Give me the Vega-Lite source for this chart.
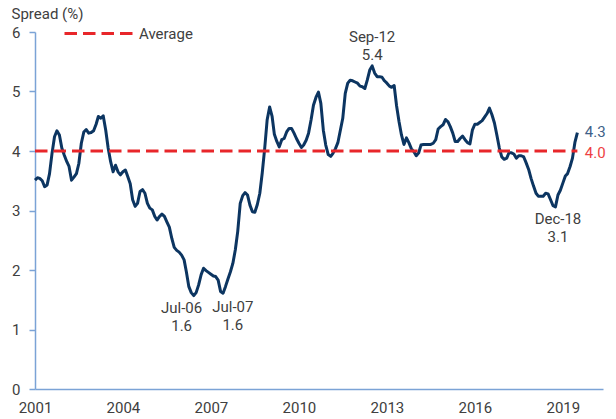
{
  "$schema": "https://vega.github.io/schema/vega-lite/v6.json",
  "width": 568,
  "height": 357,
  "autosize": "none",
  "padding": {"left": 35, "top": 32, "right": 13, "bottom": 30},
  "config": {
    "view": {"stroke": null},
    "font": "Roboto",
    "text": {"font": "Roboto"}
  },
  "datasets": {
    "spread": [
      {"date": "2001-01", "value": 3.51}, {"date": "2001-02", "value": 3.55}, {"date": "2001-03", "value": 3.54}, {"date": "2001-04", "value": 3.50},
      {"date": "2001-05", "value": 3.40}, {"date": "2001-06", "value": 3.43}, {"date": "2001-07", "value": 3.62}, {"date": "2001-08", "value": 3.96},
      {"date": "2001-09", "value": 4.24}, {"date": "2001-10", "value": 4.34}, {"date": "2001-11", "value": 4.27}, {"date": "2001-12", "value": 4.05},
      {"date": "2002-01", "value": 3.93}, {"date": "2002-02", "value": 3.82}, {"date": "2002-03", "value": 3.74}, {"date": "2002-04", "value": 3.51},
      {"date": "2002-05", "value": 3.56}, {"date": "2002-06", "value": 3.62}, {"date": "2002-07", "value": 3.79}, {"date": "2002-08", "value": 4.13},
      {"date": "2002-09", "value": 4.32}, {"date": "2002-10", "value": 4.36}, {"date": "2002-11", "value": 4.30}, {"date": "2002-12", "value": 4.31},
      {"date": "2003-01", "value": 4.34}, {"date": "2003-02", "value": 4.45}, {"date": "2003-03", "value": 4.58}, {"date": "2003-04", "value": 4.55},
      {"date": "2003-05", "value": 4.59}, {"date": "2003-06", "value": 4.35}, {"date": "2003-07", "value": 4.05}, {"date": "2003-08", "value": 3.82},
      {"date": "2003-09", "value": 3.65}, {"date": "2003-10", "value": 3.76}, {"date": "2003-11", "value": 3.65}, {"date": "2003-12", "value": 3.60},
      {"date": "2004-01", "value": 3.65}, {"date": "2004-02", "value": 3.68}, {"date": "2004-03", "value": 3.57}, {"date": "2004-04", "value": 3.45},
      {"date": "2004-05", "value": 3.18}, {"date": "2004-06", "value": 3.07}, {"date": "2004-07", "value": 3.12}, {"date": "2004-08", "value": 3.32},
      {"date": "2004-09", "value": 3.35}, {"date": "2004-10", "value": 3.29}, {"date": "2004-11", "value": 3.12}, {"date": "2004-12", "value": 3.04},
      {"date": "2005-01", "value": 3.01}, {"date": "2005-02", "value": 2.90}, {"date": "2005-03", "value": 2.84}, {"date": "2005-04", "value": 2.90},
      {"date": "2005-05", "value": 2.94}, {"date": "2005-06", "value": 2.90}, {"date": "2005-07", "value": 2.81}, {"date": "2005-08", "value": 2.72},
      {"date": "2005-09", "value": 2.53}, {"date": "2005-10", "value": 2.38}, {"date": "2005-11", "value": 2.33}, {"date": "2005-12", "value": 2.30},
      {"date": "2006-01", "value": 2.25}, {"date": "2006-02", "value": 2.17}, {"date": "2006-03", "value": 1.97}, {"date": "2006-04", "value": 1.72},
      {"date": "2006-05", "value": 1.62}, {"date": "2006-06", "value": 1.57}, {"date": "2006-07", "value": 1.62}, {"date": "2006-08", "value": 1.75},
      {"date": "2006-09", "value": 1.92}, {"date": "2006-10", "value": 2.03}, {"date": "2006-11", "value": 1.99}, {"date": "2006-12", "value": 1.96},
      {"date": "2007-01", "value": 1.93}, {"date": "2007-02", "value": 1.90}, {"date": "2007-03", "value": 1.89}, {"date": "2007-04", "value": 1.83},
      {"date": "2007-05", "value": 1.64}, {"date": "2007-06", "value": 1.61}, {"date": "2007-07", "value": 1.72}, {"date": "2007-08", "value": 1.85},
      {"date": "2007-09", "value": 1.97}, {"date": "2007-10", "value": 2.11}, {"date": "2007-11", "value": 2.34}, {"date": "2007-12", "value": 2.65},
      {"date": "2008-01", "value": 3.12}, {"date": "2008-02", "value": 3.25}, {"date": "2008-03", "value": 3.30}, {"date": "2008-04", "value": 3.26},
      {"date": "2008-05", "value": 3.09}, {"date": "2008-06", "value": 2.98}, {"date": "2008-07", "value": 2.97}, {"date": "2008-08", "value": 3.10},
      {"date": "2008-09", "value": 3.29}, {"date": "2008-10", "value": 3.63}, {"date": "2008-11", "value": 4.05}, {"date": "2008-12", "value": 4.52},
      {"date": "2009-01", "value": 4.74}, {"date": "2009-02", "value": 4.58}, {"date": "2009-03", "value": 4.28}, {"date": "2009-04", "value": 4.16},
      {"date": "2009-05", "value": 4.07}, {"date": "2009-06", "value": 4.19}, {"date": "2009-07", "value": 4.21}, {"date": "2009-08", "value": 4.32},
      {"date": "2009-09", "value": 4.38}, {"date": "2009-10", "value": 4.38}, {"date": "2009-11", "value": 4.30}, {"date": "2009-12", "value": 4.21},
      {"date": "2010-01", "value": 4.13}, {"date": "2010-02", "value": 4.06}, {"date": "2010-03", "value": 4.10}, {"date": "2010-04", "value": 4.18},
      {"date": "2010-05", "value": 4.30}, {"date": "2010-06", "value": 4.52}, {"date": "2010-07", "value": 4.77}, {"date": "2010-08", "value": 4.90},
      {"date": "2010-09", "value": 4.99}, {"date": "2010-10", "value": 4.80}, {"date": "2010-11", "value": 4.35}, {"date": "2010-12", "value": 4.10},
      {"date": "2011-01", "value": 3.94}, {"date": "2011-02", "value": 3.91}, {"date": "2011-03", "value": 3.96}, {"date": "2011-04", "value": 4.04},
      {"date": "2011-05", "value": 4.14}, {"date": "2011-06", "value": 4.35}, {"date": "2011-07", "value": 4.55}, {"date": "2011-08", "value": 4.97},
      {"date": "2011-09", "value": 5.14}, {"date": "2011-10", "value": 5.19}, {"date": "2011-11", "value": 5.18}, {"date": "2011-12", "value": 5.16},
      {"date": "2012-01", "value": 5.14}, {"date": "2012-02", "value": 5.09}, {"date": "2012-03", "value": 5.08}, {"date": "2012-04", "value": 5.05},
      {"date": "2012-05", "value": 5.19}, {"date": "2012-06", "value": 5.36}, {"date": "2012-07", "value": 5.43}, {"date": "2012-08", "value": 5.31},
      {"date": "2012-09", "value": 5.25}, {"date": "2012-10", "value": 5.25}, {"date": "2012-11", "value": 5.24}, {"date": "2012-12", "value": 5.18},
      {"date": "2013-01", "value": 5.14}, {"date": "2013-02", "value": 5.09}, {"date": "2013-03", "value": 5.07}, {"date": "2013-04", "value": 5.10},
      {"date": "2013-05", "value": 4.76}, {"date": "2013-06", "value": 4.49}, {"date": "2013-07", "value": 4.27}, {"date": "2013-08", "value": 4.11},
      {"date": "2013-09", "value": 4.22}, {"date": "2013-10", "value": 4.14}, {"date": "2013-11", "value": 4.04}, {"date": "2013-12", "value": 3.99},
      {"date": "2014-01", "value": 3.92}, {"date": "2014-02", "value": 3.97}, {"date": "2014-03", "value": 4.10}, {"date": "2014-04", "value": 4.11},
      {"date": "2014-05", "value": 4.11}, {"date": "2014-06", "value": 4.11}, {"date": "2014-07", "value": 4.11}, {"date": "2014-08", "value": 4.13},
      {"date": "2014-09", "value": 4.19}, {"date": "2014-10", "value": 4.37}, {"date": "2014-11", "value": 4.41}, {"date": "2014-12", "value": 4.44},
      {"date": "2015-01", "value": 4.53}, {"date": "2015-02", "value": 4.49}, {"date": "2015-03", "value": 4.41}, {"date": "2015-04", "value": 4.30},
      {"date": "2015-05", "value": 4.16}, {"date": "2015-06", "value": 4.16}, {"date": "2015-07", "value": 4.21}, {"date": "2015-08", "value": 4.25},
      {"date": "2015-09", "value": 4.19}, {"date": "2015-10", "value": 4.14}, {"date": "2015-11", "value": 4.12}, {"date": "2015-12", "value": 4.35},
      {"date": "2016-01", "value": 4.45}, {"date": "2016-02", "value": 4.45}, {"date": "2016-03", "value": 4.48}, {"date": "2016-04", "value": 4.51},
      {"date": "2016-05", "value": 4.57}, {"date": "2016-06", "value": 4.63}, {"date": "2016-07", "value": 4.72}, {"date": "2016-08", "value": 4.61},
      {"date": "2016-09", "value": 4.47}, {"date": "2016-10", "value": 4.27}, {"date": "2016-11", "value": 4.05}, {"date": "2016-12", "value": 3.90},
      {"date": "2017-01", "value": 3.86}, {"date": "2017-02", "value": 3.88}, {"date": "2017-03", "value": 3.97}, {"date": "2017-04", "value": 3.97},
      {"date": "2017-05", "value": 3.95}, {"date": "2017-06", "value": 3.88}, {"date": "2017-07", "value": 3.92}, {"date": "2017-08", "value": 3.92},
      {"date": "2017-09", "value": 3.90}, {"date": "2017-10", "value": 3.80}, {"date": "2017-11", "value": 3.69}, {"date": "2017-12", "value": 3.54},
      {"date": "2018-01", "value": 3.41}, {"date": "2018-02", "value": 3.29}, {"date": "2018-03", "value": 3.24}, {"date": "2018-04", "value": 3.24},
      {"date": "2018-05", "value": 3.24}, {"date": "2018-06", "value": 3.29}, {"date": "2018-07", "value": 3.28}, {"date": "2018-08", "value": 3.18},
      {"date": "2018-09", "value": 3.08}, {"date": "2018-10", "value": 3.06}, {"date": "2018-11", "value": 3.26}, {"date": "2018-12", "value": 3.34},
      {"date": "2019-01", "value": 3.46}, {"date": "2019-02", "value": 3.58}, {"date": "2019-03", "value": 3.62}, {"date": "2019-04", "value": 3.74},
      {"date": "2019-05", "value": 3.88}, {"date": "2019-06", "value": 4.15}, {"date": "2019-07", "value": 4.31}
    ],
    "avg": [{"date": "2001-01", "end": "2019-07", "value": 4.0, "series": "Average"}],
    "notes": [
      {"date": "2006-01", "value": 1.36, "label": "Jul-06\n1.6"},
      {"date": "2007-10", "value": 1.38, "label": "Jul-07\n1.6"},
      {"date": "2012-07", "value": 5.92, "label": "Sep-12\n5.4"},
      {"date": "2018-11", "value": 2.86, "label": "Dec-18\n3.1"}
    ],
    "lastValue": [{"date": "2019-10", "value": 4.32, "label": "4.3"}],
    "lastAvg": [{"date": "2019-10", "value": 3.97, "label": "4.0"}]
  },
  "encoding": {
    "x": {
      "field": "date",
      "type": "temporal",
      "scale": {
        "type": "utc",
        "domain": [{"year": 2001, "month": 1, "date": 1, "utc": true}, {"year": 2020, "month": 5, "date": 15, "utc": true}]
      },
      "axis": {
        "title": null,
        "values": [
          {"year": 2001, "utc": true}, {"year": 2004, "utc": true}, {"year": 2007, "utc": true},
          {"year": 2010, "utc": true}, {"year": 2013, "utc": true}, {"year": 2016, "utc": true}, {"year": 2019, "utc": true}
        ],
        "format": "%Y",
        "ticks": false,
        "grid": false,
        "labelFlush": false,
        "labelOverlap": false,
        "labelPadding": 11,
        "labelFontSize": 15,
        "labelFont": "Roboto",
        "labelColor": "#404040",
        "domainColor": "#7ba3d6",
        "domainWidth": 1.5
      }
    },
    "y": {
      "field": "value",
      "type": "quantitative",
      "scale": {"domain": [0, 6], "nice": false, "zero": true},
      "axis": {
        "title": "Spread (%)",
        "titleAngle": 0,
        "titleAlign": "left",
        "titleBaseline": "middle",
        "titleX": -24,
        "titleY": -19,
        "titleFontSize": 15,
        "titleFontWeight": "normal",
        "titleFont": "Roboto",
        "titleColor": "#404040",
        "values": [0, 1, 2, 3, 4, 5, 6],
        "grid": false,
        "tickSize": 6,
        "tickColor": "#7ba3d6",
        "tickWidth": 1.5,
        "labelPadding": 9,
        "labelFontSize": 15,
        "labelFont": "Roboto",
        "labelColor": "#404040",
        "domainColor": "#7ba3d6",
        "domainWidth": 1.5
      }
    }
  },
  "layer": [
    {
      "data": {"name": "spread"},
      "mark": {"type": "line", "color": "#0c3561", "strokeWidth": 3, "strokeJoin": "round"}
    },
    {
      "data": {"name": "avg"},
      "mark": {"type": "rule", "strokeDash": [12.5, 6], "strokeWidth": 3},
      "encoding": {
        "x2": {"field": "end"},
        "color": {
          "field": "series",
          "type": "nominal",
          "scale": {"range": ["#e8262a"]},
          "legend": {
            "orient": "none",
            "legendX": 28,
            "legendY": -35,
            "title": null,
            "padding": 0,
            "symbolType": "stroke",
            "symbolSize": 4900,
            "symbolStrokeWidth": 3,
            "symbolDash": [12.5, 6],
            "labelFontSize": 15,
            "labelFont": "Roboto",
            "labelColor": "#404040",
            "labelOffset": 3
          }
        }
      }
    },
    {
      "data": {"name": "notes"},
      "mark": {"type": "text", "lineBreak": "\n", "fontSize": 15, "color": "#404040", "align": "center", "baseline": "middle", "lineHeight": 18},
      "encoding": {"text": {"field": "label"}}
    },
    {
      "data": {"name": "lastValue"},
      "mark": {"type": "text", "fontSize": 15, "color": "#3e6189", "align": "left", "baseline": "middle"},
      "encoding": {"text": {"field": "label"}}
    },
    {
      "data": {"name": "lastAvg"},
      "mark": {"type": "text", "fontSize": 15, "color": "#ee3f43", "align": "left", "baseline": "middle"},
      "encoding": {"text": {"field": "label"}}
    }
  ]
}
